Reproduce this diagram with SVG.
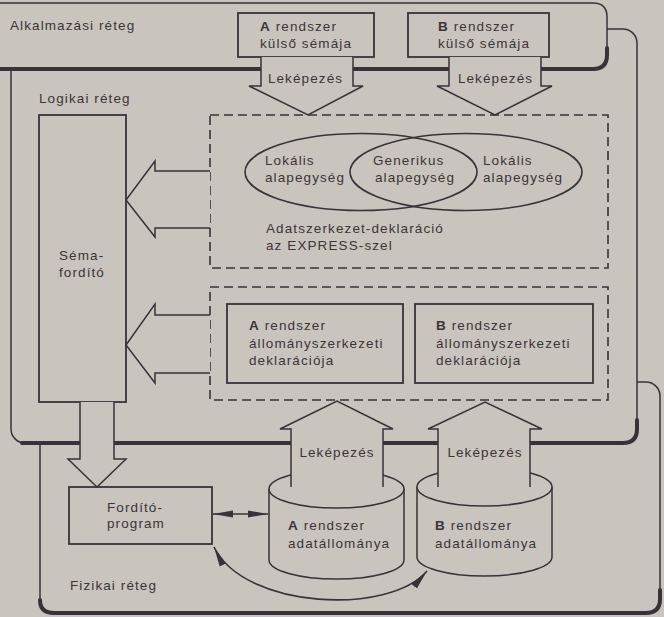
<svg xmlns="http://www.w3.org/2000/svg" width="664" height="617" viewBox="0 0 664 617">
<defs>
<style>
.bg{fill:#c9c4bd}
.ln{fill:#c9c4bd;stroke:#38323a;stroke-width:1.5}
.bx{fill:none;stroke:#38323a;stroke-width:1.8}
.th{fill:none;stroke:#38323a;stroke-width:4;stroke-linecap:round}
.ds{fill:none;stroke:#38323a;stroke-width:1.6;stroke-dasharray:9 5}
.ar{fill:#c9c4bd;stroke:#38323a;stroke-width:1.5;stroke-linejoin:miter}
.cn{fill:none;stroke:#38323a;stroke-width:1.6}
text{font-family:"Liberation Sans",Arial,Helvetica,sans-serif;font-size:13.5px;letter-spacing:1.1px;fill:#3b3439}
.b{font-weight:bold}
</style>
<marker id="ah" viewBox="0 0 20 8" refX="20" refY="4" markerWidth="20" markerHeight="8" markerUnits="userSpaceOnUse" orient="auto-start-reverse">
<path d="M0,0.5 L20,4 L0,7.5 z" fill="#38323a"/>
</marker>
</defs>
<rect class="bg" x="0" y="0" width="664" height="617"/>

<g id="fizikai-reteg">
<rect class="ln" x="40" y="382" width="620" height="231" rx="14"/>
<path class="th" d="M54 613 H646 Q660 613 660 599 V590"/>
<path class="th" d="M40 600 Q40 613 54 613"/>
<text x="70" y="590">Fizikai réteg</text>
</g>

<g id="logikai-reteg">
<rect class="ln" x="11" y="29" width="626" height="414" rx="14"/>
<path class="th" d="M22 443 H623 Q637 443 637 429 V420"/>
<text x="39" y="103">Logikai réteg</text>
</g>

<g id="alkalmazasi-reteg">
<path class="ln" d="M-20 3 H593 Q607 3 607 17 V55 Q607 69 593 69 H-20 Z"/>
<path class="th" d="M-20 69 H593 Q607 69 607 55 V48"/>
<text x="10" y="30">Alkalmazási réteg</text>
</g>

<g id="a-kulso-semaja">
<rect class="bx" x="238" y="13" width="136" height="44"/>
<text x="260" y="31"><tspan class="b">A</tspan> rendszer</text>
<text x="260" y="48">külső sémája</text>
</g>

<g id="b-kulso-semaja">
<rect class="bx" x="408" y="13" width="141" height="44"/>
<text x="438" y="31"><tspan class="b">B</tspan> rendszer</text>
<text x="438" y="48">külső sémája</text>
</g>

<g id="express-deklaracio">
<rect class="ds" x="210" y="115" width="398" height="153"/>
<ellipse class="cn" cx="361" cy="172" rx="116" ry="38.5"/>
<ellipse class="cn" cx="466" cy="172" rx="116" ry="38.5"/>
<text x="265" y="165">Lokális</text>
<text x="265" y="182">alapegység</text>
<text x="373" y="165">Generikus</text>
<text x="375" y="182">alapegység</text>
<text x="483" y="165">Lokális</text>
<text x="483" y="182">alapegység</text>
<text x="266" y="233">Adatszerkezet-deklaráció</text>
<text x="266" y="250">az EXPRESS-szel</text>
</g>

<g id="allomanyszerkezeti-deklaraciok">
<rect class="ds" x="210" y="287" width="398" height="113"/>
</g>

<g id="a-allomanyszerkezet">
<rect class="bx" x="227" y="304" width="176" height="79"/>
<text x="249" y="330"><tspan class="b">A</tspan> rendszer</text>
<text x="249" y="348">állományszerkezeti</text>
<text x="249" y="365">deklarációja</text>
</g>

<g id="b-allomanyszerkezet">
<rect class="bx" x="415" y="304" width="178" height="79"/>
<text x="436" y="330"><tspan class="b">B</tspan> rendszer</text>
<text x="436" y="348">állományszerkezeti</text>
<text x="436" y="365">deklarációja</text>
</g>

<g id="sema-fordito">
<rect class="bx" x="39" y="115" width="87" height="287"/>
<text x="59" y="260">Séma-</text>
<text x="59" y="277">fordító</text>
</g>

<g id="fordito-program">
<rect class="bx" x="69" y="487" width="143" height="57"/>
<text x="107" y="512">Fordító-</text>
<text x="107" y="528">program</text>
</g>

<g id="a-adatallomany">
<path class="ln" d="M269 489 V560 A67.5 19 0 0 0 404 560 V489"/>
<ellipse class="ln" cx="336.5" cy="489" rx="67.5" ry="19"/>
<text x="288" y="530"><tspan class="b">A</tspan> rendszer</text>
<text x="288" y="548">adatállománya</text>
</g>

<g id="b-adatallomany">
<path class="ln" d="M417 487 V557 A67.5 19 0 0 0 552 557 V487"/>
<ellipse class="ln" cx="484.5" cy="487" rx="67.5" ry="19"/>
<text x="435" y="530"><tspan class="b">B</tspan> rendszer</text>
<text x="435" y="548">adatállománya</text>
</g>

<g id="connectors">
<path class="ar" d="M261 57 V86 H249 L308 115 L363 86 H353 V57"/>
<text x="305.5" y="83" text-anchor="middle">Leképezés</text>
<path class="ar" d="M449 57 V86 H437 L495 115 L552 86 H541 V57"/>
<text x="495.5" y="83" text-anchor="middle">Leképezés</text>
<path class="ar" d="M210 171 H155 V161 L126 200 L155 237 V228 H210"/>
<path class="ar" d="M210 315 H155 V304 L126 345 L155 383 V373 H210"/>
<path class="ar" d="M80 402 V459 H68 L97 487 L126 459 H114 V402"/>
<path class="ar" d="M291 487 V429 H280 L337 401 L393 429 H383 V487"/>
<text x="337" y="457" text-anchor="middle">Leképezés</text>
<path class="ar" d="M438 487 V429 H428 L485 402 L542 429 H530 V487"/>
<text x="485" y="457" text-anchor="middle">Leképezés</text>
<path class="cn" d="M213 514 H268" marker-start="url(#ah)" marker-end="url(#ah)"/>
<path class="cn" d="M214 547 C245 610 390 615 427 571" marker-start="url(#ah)" marker-end="url(#ah)"/>
</g>
</svg>
